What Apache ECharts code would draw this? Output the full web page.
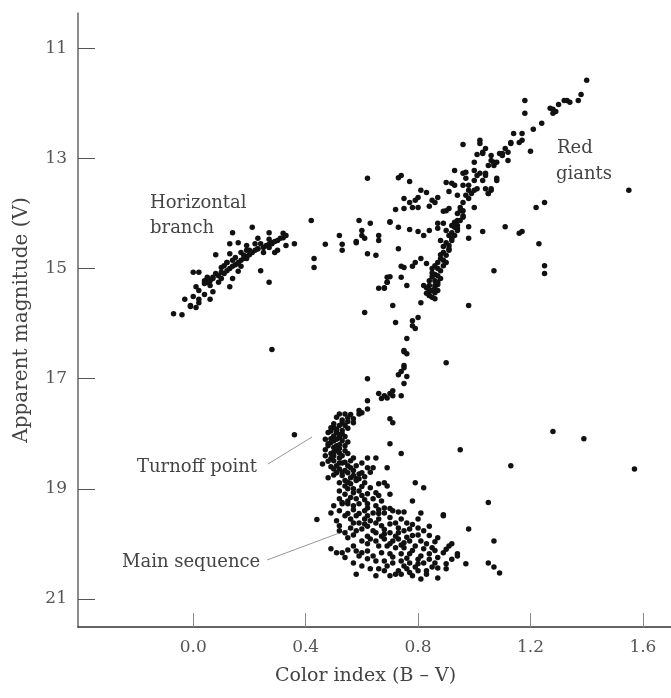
<!DOCTYPE html>
<html>
<head>
<meta charset="utf-8">
<script src="https://cdn.jsdelivr.net/npm/echarts@6/dist/echarts.min.js"></script>
<style>
  html, body { margin: 0; padding: 0; background: #fff; }
  #chart { width: 671px; height: 698px; }
</style>
</head>
<body>
<div id="chart"></div>
<script>
// axis ticks
var xTicks = [0.0, 0.4, 0.8, 1.2, 1.6];
var yTicks = [11, 13, 15, 17, 19, 21];

// star groups, [B-V, V]
var horizontalBranch = [
  [0.21,14.25],[0.14,14.35],[0.27,14.35],[0.32,14.36],[0.33,14.40],[0.23,14.45],[0.27,14.47],[0.13,14.55],
  [0.16,14.53],[0.19,14.58],[0.24,14.55],[0.28,14.55],[0.36,14.55],[0.33,14.58],[0.30,14.67],[0.29,14.71],
  [0.08,14.75],[0.13,14.73],[0.17,14.71],[0.20,14.67],[0.23,14.64],[0.18,14.76],[0.15,14.80],[0.14,14.85],
  [0.12,14.89],[0.11,14.95],[0.10,14.98],[0.16,14.91],[0.19,14.82],[0.16,15.05],[0.24,15.04],[0.00,15.07],
  [0.02,15.07],[0.08,15.09],[0.11,15.09],[0.05,15.16],[0.04,15.22],[0.07,15.18],[0.10,15.18],[0.14,15.18],
  [0.04,15.27],[0.01,15.33],[0.06,15.31],[0.13,15.33],[0.27,15.25],[0.02,15.40],[0.07,15.42],[0.04,15.47],
  [0.00,15.51],[-0.03,15.56],[0.02,15.56],[0.06,15.56],[-0.01,15.67],[0.01,15.71],[-0.07,15.82],[-0.04,15.84],
  [-0.01,15.69],[0.02,15.62],[0.05,15.25],[0.06,15.22],[0.07,15.16],[0.09,15.13],[0.10,15.07],[0.12,15.04],
  [0.13,15.00],[0.14,14.96],[0.15,14.93],[0.16,14.89],[0.17,14.85],[0.18,14.82],[0.19,14.78],[0.20,14.75],
  [0.21,14.71],[0.22,14.67],[0.23,14.64],[0.25,14.62],[0.26,14.58],[0.27,14.56],[0.28,14.53],[0.29,14.51],
  [0.30,14.49],[0.31,14.45],[0.32,14.44],[0.25,14.71],[0.17,14.96],[0.09,15.25],[0.12,14.89],[0.19,14.67],
  [0.22,14.55],[0.27,14.62]
];

var upperGiants = [
  [1.40,11.58],[1.38,11.84],[1.37,11.95],[1.33,11.95],[1.34,11.98],[1.32,11.95],[1.30,12.02],[1.28,12.11],
  [1.29,12.15],[1.28,12.18],[1.27,12.09],[1.18,11.95],[1.18,12.18],[1.24,12.36],[1.21,12.47],[1.14,12.55],
  [1.17,12.55],[1.17,12.67],[1.16,12.71],[1.13,12.73],[1.13,12.71],[1.11,12.82],[1.12,12.89],[1.10,12.91],
  [1.10,12.95],[1.12,13.04],[1.20,12.87],[1.07,13.07],[1.07,13.13],[1.08,13.36],[1.04,13.31],[1.03,12.89],
  [1.02,12.67],[1.06,13.55],[1.05,13.64],[0.98,13.49],[1.00,13.40],[1.01,13.31],[1.05,13.13],[1.06,13.04],
  [1.09,12.91],[0.98,13.58],[0.99,13.64],
  [0.96,12.75],[1.02,12.73],[1.04,12.82],[1.01,12.93],[1.03,12.91],[1.06,12.95],[1.07,13.09],[1.08,13.07],
  [1.00,13.07],[0.97,13.25],[1.00,13.22],[1.02,13.27],[1.04,13.27],[0.93,13.22],[0.96,13.27],[1.08,13.40],
  [1.03,13.40],[0.97,13.36],[0.90,13.44],[0.92,13.45],[0.93,13.49],[1.01,13.55],[1.04,13.55],[1.06,13.58],
  [1.00,13.58],[0.96,13.49],[0.91,13.60],[0.94,13.67],[0.97,13.67],[0.98,13.73],[1.05,13.64],[1.00,13.89],
  [0.96,13.80],[0.96,13.95],[0.95,13.95]
];

var asymptoticBranch = [
  [0.81,13.58],[0.83,13.62],[0.80,13.71],[0.87,13.71],[0.85,13.76],[0.75,13.73],[0.77,13.80],[0.79,13.76],
  [0.80,13.89],[0.78,13.89],[0.75,13.91],[0.72,13.93],[0.84,13.87],[0.86,13.80],[0.89,13.96],[0.90,13.95],
  [0.91,13.91],[0.94,14.00],[0.95,13.89],[0.96,14.07],[0.73,13.35],[0.74,13.31],[0.77,13.42]
];

var lowerGiants = [
  [0.96,14.04],[0.95,14.13],[0.94,14.22],[0.94,14.31],[0.93,14.40],[0.92,14.49],[0.91,14.58],[0.91,14.67],
  [0.90,14.76],[0.89,14.85],[0.89,14.95],[0.88,15.04],[0.87,15.13],[0.86,15.22],[0.86,15.31],[0.85,15.40],
  [0.93,14.16],[0.92,14.35],[0.90,14.53],[0.89,14.71],[0.87,14.89],[0.87,15.00],[0.86,15.11],[0.84,15.22],
  [0.84,15.31],[0.88,15.18],[0.90,14.89],[0.92,14.45],[0.94,14.27],[0.91,14.64],[0.88,14.82],[0.85,15.00],
  [0.87,15.29],[0.85,15.15],[0.86,15.44],[0.84,15.49],[0.86,15.55],[0.83,15.35],[0.84,15.49],[0.85,15.40],
  [0.90,14.31],[0.93,14.25],[0.94,14.13],[0.89,14.18],[0.92,14.22],[0.87,14.18],[0.87,14.27],[0.88,14.49],
  [0.81,14.82],[0.83,14.91],[0.79,14.89],[0.75,14.98],[0.74,15.16],[0.69,15.16],[0.69,15.25],[0.66,15.36],
  [0.68,15.36],[0.76,15.31],[0.82,14.40],[0.84,14.31],[0.80,14.33],[0.77,14.29],[0.73,14.25],[0.70,14.15],
  [0.73,14.64],[0.74,14.96],[0.78,14.96],[0.70,15.15],[0.68,15.35],[0.82,15.31],[0.84,15.40],[0.86,15.36],
  [0.87,15.25],[0.69,15.25],
  [0.91,14.40],[0.89,14.60],[0.88,14.75],[0.86,14.95],[0.85,15.08],[0.87,15.40],[0.83,15.45],[0.85,15.52]
];

var gapStars = [
  [0.42,14.13],[0.59,14.13],[0.63,14.18],[0.60,14.31],[0.60,14.40],[0.61,14.45],[0.58,14.53],[0.52,14.40],
  [0.53,14.56],[0.53,14.67],[0.47,14.56],[0.43,14.82],[0.43,14.98],[0.66,14.40],[0.66,14.49],[0.62,14.73],
  [0.65,14.76],[0.58,14.51],[0.70,14.16],[0.62,13.36]
];

var subgiantBranch = [
  [0.71,15.67],[0.81,15.62],[0.72,15.98],[0.80,15.89],[0.78,15.95],[0.78,16.04],[0.79,16.09],[0.76,16.27],
  [0.61,15.80],[0.75,16.51],[0.76,16.55],[0.75,16.76],[0.75,16.80],[0.74,16.87],[0.73,16.93],[0.76,16.96],
  [0.75,17.09],[0.62,17.00],[0.71,17.22],[0.70,17.27],[0.71,17.31],[0.69,17.35],[0.67,17.36],[0.68,17.31],
  [0.74,17.31],[0.66,17.27],[0.62,17.40],[0.62,17.55],[0.60,17.62],[0.59,17.58],[0.70,17.73],[0.71,17.80],
  [0.70,18.18],[0.74,18.36],[0.69,18.62],[0.75,16.49]
];

var turnoffStars = [
  [0.59,17.64],[0.52,17.64],[0.54,17.64],[0.56,17.65],[0.57,17.73],[0.57,17.80],[0.55,17.71],[0.53,17.80],
  [0.52,17.85],[0.50,17.89],[0.49,17.89],[0.51,17.98],[0.50,18.04],[0.49,18.09],[0.52,18.07],[0.53,18.00],
  [0.53,18.13],[0.48,18.22],[0.47,18.29],[0.50,18.25],[0.51,18.31],[0.52,18.27],[0.49,18.36],[0.50,18.40],
  [0.53,18.40],[0.55,18.36],[0.46,18.55],[0.50,18.49],[0.52,18.53],[0.53,18.53],[0.56,18.49],[0.57,18.44],
  [0.60,18.53],[0.62,18.44],[0.65,18.44],[0.64,18.62],[0.62,18.62],[0.48,18.80],[0.51,18.71],[0.53,18.76],
  [0.55,18.71],[0.57,18.67],[0.59,18.73],[0.60,18.71],[0.52,18.89],[0.54,18.85],[0.56,18.91],[0.58,18.85],
  [0.61,18.89],[0.66,18.91],[0.68,18.89],[0.69,18.95],[0.79,18.89],[0.82,18.98],[0.52,19.04],[0.55,19.00],
  [0.57,19.07],[0.59,19.04],[0.62,19.09],[0.65,19.07],[0.56,19.16],[0.58,19.18],[0.64,19.18],[0.67,19.22],
  [0.52,19.18],[0.53,19.27],[0.62,19.27],[0.68,19.35],[0.78,19.22],
  [0.49,17.95],[0.50,18.13],[0.49,18.16],[0.51,18.22],[0.54,18.22],[0.49,18.45],[0.52,18.35],[0.54,18.31],
  [0.55,18.58],[0.50,18.64],[0.52,18.64],[0.54,18.67],[0.57,18.76],[0.58,18.82],[0.59,18.82],[0.54,18.95],
  [0.51,17.70],[0.53,17.75],[0.55,17.78],[0.50,17.82],[0.54,17.85],[0.51,17.92],[0.53,17.94],[0.55,17.90],
  [0.48,17.98],[0.52,18.02],[0.54,18.05],[0.47,18.10],[0.51,18.10],[0.55,18.15],[0.48,18.18],[0.52,18.20],
  [0.50,18.33],[0.47,18.40],[0.52,18.44],[0.48,18.50],[0.54,18.52],[0.51,18.58],[0.49,18.60],[0.56,18.62],
  [0.58,18.58],[0.53,18.70],[0.50,18.75],[0.56,18.80],[0.61,18.78],[0.63,18.70],[0.55,18.88],[0.60,18.96],
  [0.63,18.98],[0.57,19.00],[0.54,19.10],[0.60,19.12],[0.66,19.12],[0.70,19.10],[0.61,19.20],[0.55,19.22]
];

var mainSequence = [
  [0.53,19.25],[0.55,19.27],[0.57,19.31],[0.59,19.27],[0.62,19.35],[0.65,19.31],[0.49,19.44],[0.51,19.58],
  [0.52,19.67],[0.55,19.45],[0.58,19.49],[0.59,19.45],[0.62,19.49],[0.64,19.44],[0.66,19.45],[0.68,19.44],
  [0.71,19.40],[0.73,19.42],[0.75,19.42],[0.81,19.44],[0.80,19.55],[0.89,19.49],[0.76,19.62],[0.59,19.62],
  [0.61,19.64],[0.63,19.58],[0.65,19.62],[0.67,19.67],[0.70,19.64],[0.73,19.71],[0.60,19.73],[0.64,19.76],
  [0.65,19.80],[0.68,19.82],[0.70,19.80],[0.73,19.80],[0.75,19.76],[0.77,19.73],[0.80,19.71],[0.82,19.76],
  [0.78,19.85],[0.84,19.85],[0.87,19.89],[0.98,19.73],[0.55,19.89],[0.60,19.95],[0.63,19.91],[0.65,19.95],
  [0.68,19.91],[0.71,19.95],[0.73,19.91],[0.75,19.98],[0.77,19.95],[0.81,19.95],[0.83,20.00],[0.66,20.04],
  [0.69,20.04],[0.72,20.07],[0.75,20.07],[0.79,20.04],[0.82,20.09],[0.85,20.07],[0.92,20.00],[1.07,19.95],
  [0.49,20.09],[0.51,20.16],[0.53,20.16],[0.55,20.11],[0.58,20.13],[0.60,20.16],[0.62,20.13],[0.67,20.16],
  [0.70,20.18],[0.74,20.18],[0.77,20.18],[0.81,20.22],[0.84,20.18],[0.89,20.16],[0.94,20.18],[0.87,20.25],
  [0.62,20.27],[0.65,20.31],[0.68,20.31],[0.71,20.35],[0.74,20.31],[0.77,20.35],[0.80,20.36],[0.82,20.35],
  [0.86,20.35],[0.90,20.36],[0.57,20.35],[0.97,20.36],[1.05,20.35],[1.07,20.42],[1.09,20.53],[0.66,20.45],
  [0.68,20.49],[0.73,20.49],[0.76,20.45],[0.80,20.49],[0.83,20.49],[0.87,20.44],[0.90,20.45],[0.58,20.55],
  [0.74,20.55],[0.87,20.62],[0.83,20.55],
  [0.50,19.31],[0.52,19.40],[0.54,19.49],[0.52,19.76],[0.54,19.80],[0.56,19.71],[0.58,19.76],[0.57,20.04],
  [0.59,20.22],[0.54,20.25],[0.60,20.40],[0.63,20.45],[0.65,20.58],[0.70,20.58],[0.78,20.58],[0.81,20.64],
  [0.57,19.38],[0.61,19.40],[0.66,19.38],[0.70,19.36],[0.56,19.55],[0.61,19.55],[0.66,19.55],[0.70,19.52],
  [0.74,19.55],[0.57,19.62],[0.62,19.68],[0.68,19.74],[0.72,19.62],[0.78,19.65],[0.84,19.68],[0.57,19.84],
  [0.62,19.86],[0.67,19.86],[0.72,19.86],[0.76,19.88],[0.80,19.84],[0.86,19.96],[0.62,20.00],[0.70,20.00],
  [0.74,20.02],[0.78,20.12],[0.86,20.12],[0.90,20.10],[0.64,20.22],[0.71,20.24],[0.76,20.26],[0.80,20.28],
  [0.84,20.28],[0.92,20.28],[0.69,20.40],[0.75,20.40],[0.79,20.42],[0.85,20.42],[0.72,20.55],[0.77,20.52]
];

var fieldStars = [
  [1.55,13.58],[1.22,13.89],[1.25,13.80],[1.16,14.36],[1.17,14.33],[1.23,14.55],[1.25,14.95],[1.25,15.09],
  [1.11,14.24],[1.03,14.33],[1.07,15.04],[0.98,15.67],[0.98,14.45],[0.98,14.24],[0.90,16.71],
  [0.95,18.29],[1.28,17.96],[1.39,18.09],[1.57,18.64],[1.13,18.58],[0.89,19.47],[1.05,19.25],[0.91,20.04],
  [0.94,20.22],[0.36,18.02],[0.28,16.47],[0.44,19.56]
];

var groups = [horizontalBranch, upperGiants, asymptoticBranch, lowerGiants, gapStars,
              subgiantBranch, turnoffStars, mainSequence, fieldStars];

var serif = '"DejaVu Serif", "Liberation Serif", serif';
var inkGray = '#444';

var myChart = echarts.init(document.getElementById('chart'), null, {renderer: 'canvas'});

var series = groups.map(function (g) {
  return {
    type: 'scatter',
    data: g,
    symbol: 'circle',
    symbolSize: 5.5,
    itemStyle: {color: '#111', opacity: 1},
    silent: true
  };
});

function note(text, x, y) {
  return {
    type: 'text', x: x, y: y,
    style: {text: text, font: '18px ' + serif, fill: inkGray, align: 'left', verticalAlign: 'middle'}
  };
}

var option = {
  backgroundColor: '#fff',
  animation: false,
  grid: {left: 78, right: 0, top: 13, bottom: 71},
  xAxis: {
    type: 'value',
    min: -0.41,
    max: 1.70,
    name: 'Color index (B – V)',
    nameLocation: 'middle',
    nameGap: 40,
    nameTextStyle: {fontFamily: serif, fontSize: 19, color: inkGray, padding: [0, 18, 0, 0]},
    axisLine: {show: true, onZero: false, lineStyle: {color: '#333', width: 1.5}},
    axisTick: {show: true, inside: true, length: 14, customValues: xTicks, lineStyle: {color: '#888', width: 1}},
    axisLabel: {
      customValues: xTicks, margin: 12, fontFamily: serif, fontSize: 17, color: '#555',
      formatter: function (v) { return v.toFixed(1); }
    },
    splitLine: {show: false}
  },
  yAxis: {
    type: 'value',
    inverse: true,
    min: 10.36,
    max: 21.51,
    name: 'Apparent magnitude (V)',
    nameLocation: 'middle',
    nameGap: 46,
    nameRotate: 90,
    nameTextStyle: {fontFamily: serif, fontSize: 20, color: inkGray},
    axisLine: {show: true, onZero: false, lineStyle: {color: '#666', width: 1.5}},
    axisTick: {show: true, inside: true, length: 17, customValues: yTicks, lineStyle: {color: '#555', width: 1}},
    axisLabel: {customValues: yTicks, margin: 11, fontFamily: serif, fontSize: 17, color: '#555'},
    splitLine: {show: false}
  },
  graphic: [
    note('Horizontal', 150, 203),
    note('branch', 150, 228),
    note('Red', 557, 148),
    note('giants', 556, 174),
    note('Turnoff point', 137, 467),
    note('Main sequence', 122, 562),
    {type: 'line', shape: {x1: 268, y1: 464, x2: 312, y2: 437}, style: {stroke: '#999', lineWidth: 1}},
    {type: 'line', shape: {x1: 267, y1: 560, x2: 350, y2: 529}, style: {stroke: '#999', lineWidth: 1}}
  ],
  series: series
};

myChart.setOption(option);
</script>
</body>
</html>
